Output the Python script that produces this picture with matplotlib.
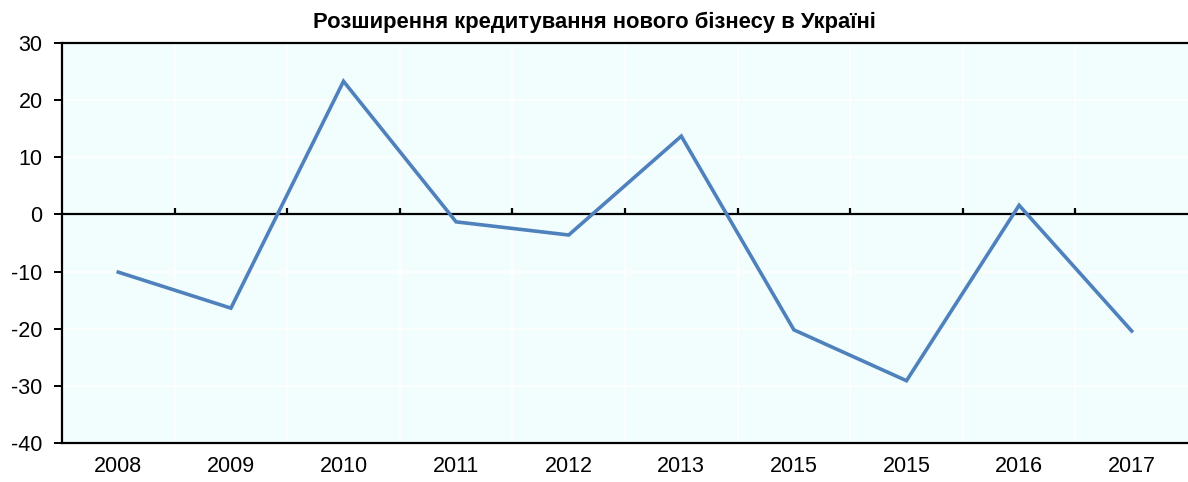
import matplotlib
matplotlib.use("Agg")
from matplotlib import pyplot as plt
import numpy as np

plt.rcParams.update({'font.family': ['Liberation Sans', 'DejaVu Sans'], 'font.size': 15.5,
                     'axes.unicode_minus': False})

# data
years = ["2008", "2009", "2010", "2011", "2012", "2013", "2015", "2015", "2016", "2017"]
values = [-10.1, -16.4, 23.3, -1.3, -3.6, 13.7, -20.2, -29.1, 1.6, -20.4]
yticks = [30, 20, 10, 0, -10, -20, -30, -40]

title = "Розширення кредитування нового бізнесу в Україні"

fig = plt.figure(figsize=(11.88, 4.82), dpi=100)
ax = fig.add_axes([62/1188, 39/482, 1 - 62/1188, 400/482])
ax.set_facecolor("#F2FEFE")

x = np.arange(len(years))
ax.set_xlim(-0.5, len(years) - 0.5)
ax.set_ylim(min(yticks), max(yticks))

# faint white grid
for b in x[:-1] + 0.5:
    ax.axvline(b, color="white", lw=1.2, zorder=1)
for t in yticks:
    ax.axhline(t, color="white", lw=1.2, zorder=1)

# zero line with small category ticks
ax.axhline(0, color="black", lw=1.6, zorder=3)
ax.vlines(x[:-1] + 0.5, 0, 1.2, color="black", lw=1.6, zorder=3)

ax.plot(x, values, color="#4F81BD", lw=2.6, zorder=4, solid_joinstyle="miter")

ax.set_xticks(x)
ax.set_xticklabels(years)
ax.set_yticks(yticks)
ax.tick_params(axis="x", length=0, pad=9)
ax.tick_params(axis="y", length=6, width=1.4, direction="out", pad=8)

for s in ["left", "top", "bottom"]:
    ax.spines[s].set_linewidth(1.6)
    ax.spines[s].set_color("black")
ax.spines["right"].set_visible(False)

fig.text(0.5, 1 - 22/482, title, ha="center", va="center", fontsize=15.8, fontweight="bold")

fig.savefig("out.png", dpi=100)
